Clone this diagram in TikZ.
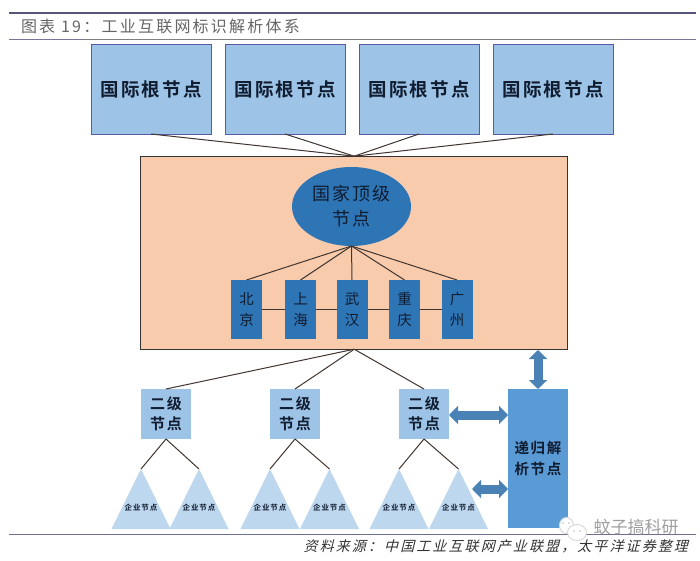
\documentclass[tikz,border=0pt]{standalone}
\usepackage{fontspec}
\usepackage{tikz}
\usetikzlibrary{arrows.meta,shapes.geometric}
\setmainfont{Noto Sans CJK SC}
\newfontfamily\titlefont[LetterSpace=14]{Noto Sans CJK SC}
\newfontfamily\nodefont[LetterSpace=12]{Noto Sans CJK SC Bold}
\newfontfamily\plainfont[LetterSpace=11]{Noto Sans CJK SC}
\newfontfamily\sourcefont[LetterSpace=15,FakeSlant=0.25]{Noto Sans CJK SC}
\definecolor{rulecol}{HTML}{55557A}
\definecolor{rootblue}{HTML}{9DC3E6}
\definecolor{peach}{HTML}{F8CBAD}
\definecolor{deepblue}{HTML}{2E75B6}
\definecolor{midblue}{HTML}{5B9BD5}
\definecolor{secblue}{HTML}{9DC3E6}
\definecolor{triblue}{HTML}{BDD7EE}
\definecolor{linkblue}{HTML}{4A82B5}
\definecolor{linkdark}{HTML}{40352F}
\definecolor{inkdark}{HTML}{101C30}

\begin{document}
\begin{tikzpicture}[
		x=1pt,y=-1pt,
		every node/.style={inner sep=0pt,outer sep=0pt},
		rootbox/.style={draw=gray!70!blue,line width=0.6pt,fill=rootblue,minimum width=120pt,minimum height=90pt,text=inkdark,font=\nodefont\fontsize{18.5pt}{22pt}\selectfont},
		citybox/.style={fill=deepblue,minimum width=31pt,minimum height=59pt,align=center,text=inkdark,font=\plainfont\fontsize{14.5pt}{20.5pt}\selectfont},
		secbox/.style={fill=secblue,minimum width=50pt,minimum height=50pt,align=center,text=inkdark,font=\nodefont\fontsize{15pt}{20pt}\selectfont},
		link/.style={draw=linkdark,line width=1pt},
		fatlink/.style={draw=linkblue,line width=9pt,{Triangle[length=9pt,width=18pt]}-{Triangle[length=9pt,width=18pt]}}
		]
		\useasboundingbox (0,0) rectangle (700,561);
		
		% =========================
		% Title and rules
		% =========================
		\fill[white] (0,0) rectangle (700,561);
		\draw[rulecol,line width=2.6pt] (9,13) -- (696,13);
		\draw[gray,line width=0.6pt] (82,39.5) -- (622,39.5);
		\draw[rulecol!80,line width=1.2pt] (9,39.5) -- (82,39.5);
		\draw[rulecol!80,line width=1.2pt] (622,39.5) -- (696,39.5);
		\node[anchor=west,text=gray!80!black,font=\titlefont\fontsize{16pt}{18pt}\selectfont] (title) at (21,26.5) {图表 19：工业互联网标识解析体系};
		
		% =========================
		% Root nodes
		% =========================
		\node[rootbox] (root1) at (151,89) {国际根节点};
		\node[rootbox] (root2) at (285,89) {国际根节点};
		\node[rootbox] (root3) at (419,89) {国际根节点};
		\node[rootbox] (root4) at (553,89) {国际根节点};
		
		% =========================
		% National level
		% =========================
		\node[draw=black!80,line width=0.9pt,fill=peach,minimum width=427pt,minimum height=193pt] (national) at (354.2,252.7) {};
		
		\foreach \n in {root1,root2,root3,root4}
		\draw[link] (\n.south) -- (national.north);
		
		\node[ellipse,fill=deepblue,minimum width=119pt,minimum height=79pt,align=center,text=inkdark,font=\plainfont\fontsize{18pt}{25pt}\selectfont] (top) at (351.5,206.5) {国家顶级\\节点};
		
		\node[citybox] (bj) at (246.5,309.5) {北\\京};
		\node[citybox] (sh) at (300.5,309.5) {上\\海};
		\node[citybox] (wh) at (352,309.5) {武\\汉};
		\node[citybox] (cq) at (404.5,309.5) {重\\庆};
		\node[citybox] (gz) at (457,309.5) {广\\州};
		
		\foreach \n in {bj,sh,wh,cq,gz}
		\draw[link] (top.south) -- (\n.north);
		
		\draw[link] (bj) -- (sh);
		\draw[link] (sh) -- (wh);
		\draw[link] (wh) -- (cq);
		\draw[link] (cq) -- (gz);
		
		% =========================
		% Secondary nodes and enterprises
		% =========================
		\node[secbox] (sec1) at (166,414) {二级\\节点};
		\node[secbox] (sec2) at (295,414) {二级\\节点};
		\node[secbox] (sec3) at (424,414) {二级\\节点};
		
		\foreach \n in {sec1,sec2,sec3}
		\draw[link] (national.south) -- (\n.north);
		
		\foreach \x/\n/\s in {141/a/sec1,199/b/sec1,270/c/sec2,329.5/d/sec2,399/e/sec3,458.5/f/sec3}{
			\fill[triblue] (\x,469) -- ++(-29.5,60) -- ++(59,0) -- cycle;
			\coordinate (apex\n) at (\x,469);
			\node[font=\nodefont\fontsize{7.5pt}{9pt}\selectfont,text=inkdark] (ent\n) at (\x,508) {企业节点};
			\draw[link] (\s.south) -- (apex\n);
		}
		
		% =========================
		% Recursive resolver
		% =========================
		\node[fill=midblue,minimum width=60pt,minimum height=139pt,align=center,text=inkdark,font=\nodefont\fontsize{14.5pt}{21pt}\selectfont] (rec) at (538,458.5) {递归解\\析节点};
		
		\coordinate (recup) at (538,350);
		\coordinate (reclow) at (508,489);
		\coordinate (entright) at (472,489);
		\draw[fatlink] (recup) -- (rec.north);
		\draw[fatlink] (sec3.east |- 0,415) -- (rec.west |- 0,415);
		\draw[fatlink] (entright) -- (reclow);
		
		% =========================
		% Source line and watermark
		% =========================
		\draw[rulecol!85,line width=1.3pt] (9,534.5) -- (696,534.5);
		\node[anchor=east,text=black!80,font=\sourcefont\fontsize{14pt}{18pt}\selectfont] (source) at (688,546) {资料来源：中国工业互联网产业联盟，太平洋证券整理};
		
		\draw[gray!30,fill=white,line width=1pt] (566.5,525.5) ellipse (7 and 8);
		\draw[gray!30,fill=white,line width=1pt] (577,532.5) ellipse (9.5 and 8);
		\fill[gray!50] (563,523) circle (0.9) (569,523) circle (0.9) (574,531) circle (0.8) (580,531) circle (0.8);
		\node[text=gray!75,font=\fontsize{17pt}{19pt}\selectfont] (mark) at (636,527) {蚊子搞科研};
	\end{tikzpicture}
\end{document}
